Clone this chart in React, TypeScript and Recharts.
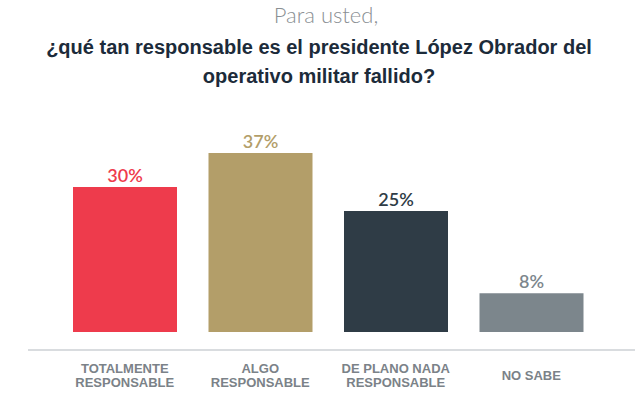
import { BarChart, Bar, XAxis, YAxis, Cell, LabelList } from "recharts";

const categories = ["TOTALMENTE|RESPONSABLE", "ALGO|RESPONSABLE", "DE PLANO NADA|RESPONSABLE", "NO SABE"];
const values = [30, 37, 25, 8];
const colors = ["#EE3B4C", "#B39E69", "#2F3C46", "#7C868C"];

const data = categories.map((name, i) => ({ name, value: values[i] }));

const CategoryTick = (props: any) => {
  const { x, payload } = props;
  const lines = String(payload.value).split("|");
  const startY = lines.length === 1 ? 380 : 373;
  return (
    <text
      textAnchor="middle"
      fill="#7B8288"
      fontFamily="'Liberation Sans Narrow', 'Liberation Sans', sans-serif"
      fontWeight={700}
      fontSize={13}
    >
      {lines.map((l, i) => (
        <tspan key={i} x={x} y={startY + i * 14}>
          {l}
        </tspan>
      ))}
    </text>
  );
};

const ValueLabel = (props: any) => {
  const { x, y, width, value, index } = props;
  return (
    <text
      x={x + width / 2}
      y={y - 5}
      textAnchor="middle"
      fill={colors[index]}
      fontFamily="Lato, sans-serif"
      fontWeight={600}
      fontSize={18}
    >
      {value}%
    </text>
  );
};

export default function App() {
  return (
    <div
      style={{
        position: "absolute",
        left: 0,
        top: 0,
        width: 635,
        height: 398,
        background: "#fff",
        fontFamily: "Lato, sans-serif",
      }}
    >
      <div
        style={{
          position: "absolute",
          top: 2,
          left: 0,
          width: 652,
          textAlign: "center",
          fontSize: 22,
          fontWeight: 300,
          color: "#8A8F93",
          lineHeight: "26px",
        }}
      >
        Para usted,
      </div>
      <div
        style={{
          position: "absolute",
          top: 33,
          left: 0,
          width: 638,
          textAlign: "center",
          fontSize: 20,
          fontWeight: 700,
          color: "#1C2B3A",
          lineHeight: "29px",
          fontFamily: "'Liberation Sans Narrow', sans-serif",
        }}
      >
        ¿qué tan responsable es el presidente López Obrador del
        <br />
        operativo militar fallido?
      </div>
      <BarChart
        width={635}
        height={398}
        data={data}
        margin={{ top: 110, right: 0, left: 28, bottom: 0 }}
        style={{ position: "absolute", left: 0, top: 0 }}
      >
        <YAxis hide domain={[-3.72, 45.9]} />
        <XAxis
          dataKey="name"
          height={48}
          interval={0}
          tickLine={false}
          axisLine={{ stroke: "#D9DCDF", strokeWidth: 2 }}
          padding={{ left: 29, right: 36 }}
          tick={<CategoryTick />}
        />
        <Bar dataKey="value" barSize={104} isAnimationActive={false}>
          {data.map((d, i) => (
            <Cell key={d.name} fill={colors[i]} />
          ))}
          <LabelList dataKey="value" content={<ValueLabel />} />
        </Bar>
      </BarChart>
    </div>
  );
}
